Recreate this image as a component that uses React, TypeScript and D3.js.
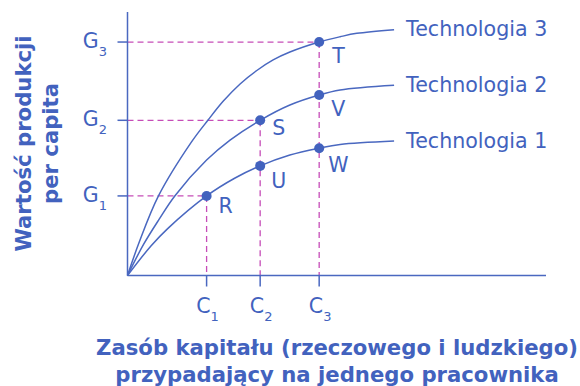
import React, { useEffect, useRef } from 'react';
import * as d3 from 'd3';

// capital per worker (k) and output per capita (y)
const tech1K = [0, 0.56, 0.96, 1.89, 2.57, 3.17, 3.88, 4.58, 5.08, 6.37];
const tech1Y = [0, 1.12, 1.78, 3.02, 3.70, 4.16, 4.57, 4.83, 4.97, 5.10];
const tech2K = [0, 0.38, 0.75, 1.13, 1.89, 2.45, 3.17, 3.88, 4.58, 5.08, 6.37];
const tech2Y = [0, 1.17, 2.12, 3.02, 4.38, 5.14, 5.89, 6.47, 6.85, 7.04, 7.22];
const tech3K = [0, 0.27, 0.74, 1.53, 1.92, 2.29, 2.69, 3.09, 3.48, 3.88, 4.58, 5.08, 5.48, 6.37];
const tech3Y = [0, 1.22, 3.02, 5.07, 5.89, 6.62, 7.27, 7.78, 8.18, 8.48, 8.86, 9.06, 9.19, 9.33];
const techNames = ['Technologia 1', 'Technologia 2', 'Technologia 3'];

// marked points
const pointNames = ['R', 'U', 'W', 'S', 'V', 'T'];
const pointK = [1.89, 3.17, 4.58, 3.17, 4.58, 4.58];
const pointY = [3.02, 4.16, 4.83, 5.89, 6.85, 8.86];

// axis ticks
const capTicks = [1.89, 3.17, 4.58];
const capTickSubs = ['1', '2', '3'];
const outTicks = [3.02, 5.89, 8.86];
const outTickSubs = ['1', '2', '3'];

const BLUE = '#4262BE';
const LINE = '#4A68C0';
const PINK = '#C64DB8';
const FONT = '"DejaVu Sans", Verdana, sans-serif';

// label offsets for each point (px)
const labelDx = [12, 11, 9, 12, 12, 13];
const labelDy = [17, 22, 24, 15, 21, 21];

const App = () => {
  const svgRef = useRef<SVGSVGElement>(null);

  useEffect(() => {
    const width = 580;
    const height = 386;
    const svg = d3.select(svgRef.current).attr('width', width).attr('height', height);
    svg.selectAll('*').remove();

    const x = d3.scaleLinear().domain([0, 10]).range([127.5, 546]);
    const y = d3.scaleLinear().domain([0, 10]).range([275.5, 12]);

    // dashed guide lines
    const guides = svg.append('g')
      .attr('stroke', PINK)
      .attr('stroke-width', 1.3)
      .attr('stroke-dasharray', '6,4')
      .attr('fill', 'none');
    // horizontal: G1 -> R, G2 -> S, G3 -> T
    [0, 3, 5].forEach(i => {
      guides.append('line')
        .attr('x1', x(0)).attr('x2', x(pointK[i]))
        .attr('y1', y(pointY[i])).attr('y2', y(pointY[i]));
    });
    // vertical: R -> C1, S -> C2, T -> C3
    [0, 3, 5].forEach(i => {
      guides.append('line')
        .attr('x1', x(pointK[i])).attr('x2', x(pointK[i]))
        .attr('y1', y(pointY[i])).attr('y2', y(0));
    });

    // axes
    const axes = svg.append('g').attr('stroke', LINE).attr('stroke-width', 1.5);
    axes.append('line').attr('x1', x(0)).attr('x2', x(10)).attr('y1', y(0)).attr('y2', y(0));
    axes.append('line').attr('x1', x(0)).attr('x2', x(0)).attr('y1', y(0)).attr('y2', y(10));
    capTicks.forEach(k => {
      axes.append('line').attr('x1', x(k)).attr('x2', x(k)).attr('y1', y(0)).attr('y2', y(0) + 11);
    });
    outTicks.forEach(v => {
      axes.append('line').attr('x1', x(0) - 10).attr('x2', x(0)).attr('y1', y(v)).attr('y2', y(v));
    });

    // tick labels
    capTicks.forEach((k, i) => {
      const t = svg.append('text')
        .attr('x', x(k) + 1)
        .attr('y', 313)
        .attr('text-anchor', 'middle')
        .style('font-family', FONT)
        .style('font-size', '20.5px')
        .style('fill', BLUE);
      t.append('tspan').text('C');
      t.append('tspan').attr('dy', 8).style('font-size', '13px').text(capTickSubs[i]);
    });
    outTicks.forEach((v, i) => {
      const t = svg.append('text')
        .attr('x', 107)
        .attr('y', y(v) + 6)
        .attr('text-anchor', 'end')
        .style('font-family', FONT)
        .style('font-size', '20.5px')
        .style('fill', BLUE);
      t.append('tspan').text('G');
      t.append('tspan').attr('dy', 8).style('font-size', '13px').text(outTickSubs[i]);
    });

    // production curves
    const line = d3.line<[number, number]>()
      .x(d => x(d[0]))
      .y(d => y(d[1]))
      .curve(d3.curveCatmullRom.alpha(0.5));

    const techs = [
      d3.zip(tech1K, tech1Y),
      d3.zip(tech2K, tech2Y),
      d3.zip(tech3K, tech3Y),
    ] as [number, number][][];

    techs.forEach((data, i) => {
      svg.append('path')
        .datum(data)
        .attr('fill', 'none')
        .attr('stroke', LINE)
        .attr('stroke-width', 1.5)
        .attr('d', line);

      const last = data[data.length - 1];
      svg.append('text')
        .attr('x', x(last[0]) + 12)
        .attr('y', y(last[1]))
        .attr('dy', '0.33em')
        .style('font-family', FONT)
        .style('font-size', '20.6px')
        .style('fill', BLUE)
        .text(techNames[i]);
    });

    // points
    pointNames.forEach((name, i) => {
      svg.append('circle')
        .attr('cx', x(pointK[i]))
        .attr('cy', y(pointY[i]))
        .attr('r', 5)
        .attr('fill', BLUE);
      svg.append('text')
        .attr('x', x(pointK[i]) + labelDx[i])
        .attr('y', y(pointY[i]) + labelDy[i])
        .style('font-family', FONT)
        .style('font-size', '20.5px')
        .style('fill', BLUE)
        .text(name);
    });

    // axis titles
    const xTitle = svg.append('text')
      .attr('text-anchor', 'middle')
      .style('font-family', FONT)
      .style('font-size', '21.2px')
      .style('font-weight', 'bold')
      .style('fill', BLUE);
    xTitle.append('tspan').attr('x', 337).attr('y', 355).text('Zasób kapitału (rzeczowego i ludzkiego)');
    xTitle.append('tspan').attr('x', 337).attr('y', 382).text('przypadający na jednego pracownika');

    const yTitle = svg.append('text')
      .attr('transform', 'translate(0,143.5) rotate(-90)')
      .attr('text-anchor', 'middle')
      .style('font-family', FONT)
      .style('font-size', '21.2px')
      .style('font-weight', 'bold')
      .style('fill', BLUE);
    yTitle.append('tspan').attr('x', 0).attr('y', 31).text('Wartość produkcji');
    yTitle.append('tspan').attr('x', 0).attr('y', 58).text('per capita');
  }, []);

  return (
    <div style={{ position: 'fixed', left: 0, top: 0, background: '#fff' }}>
      <svg ref={svgRef} style={{ display: 'block' }}></svg>
    </div>
  );
};

export default App;
